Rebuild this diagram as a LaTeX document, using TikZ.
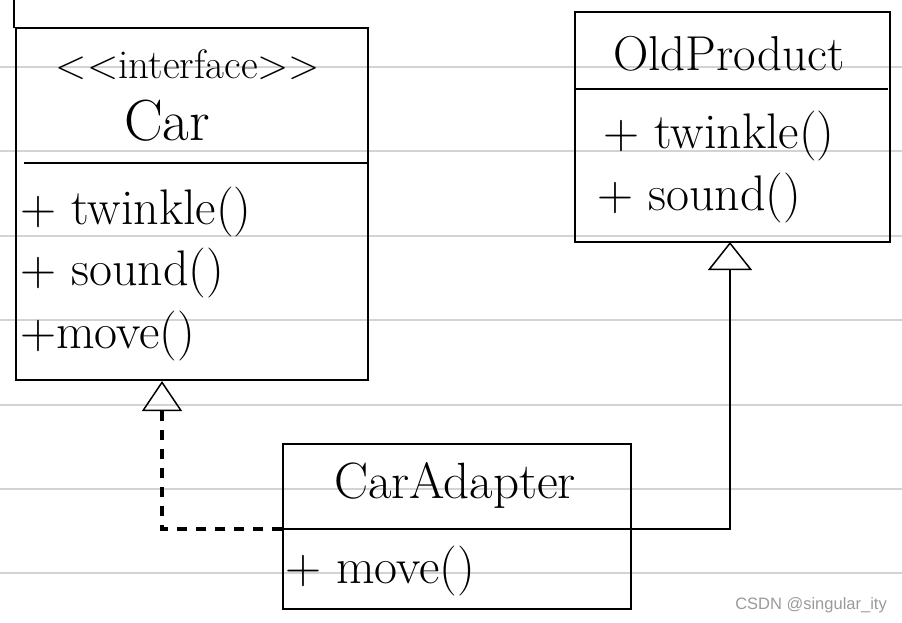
\documentclass[tikz,border=0pt]{standalone}
\usepackage{fontspec}
\usepackage{tikz}
\usetikzlibrary{arrows.meta, positioning, calc}
\newfontfamily\marksans{Liberation Sans}
\definecolor{rulegray}{HTML}{D3D3D3}
\definecolor{markgray}{HTML}{9A9A9A}

\begin{document}
\begin{tikzpicture}[x=1pt, y=-1pt,
  classbox/.style={draw, line width=1.4pt, inner sep=0pt},
  hand/.style={inner sep=0pt, font=\fontsize{50}{54}\selectfont},
  method/.style={hand, anchor=base west},
  title/.style={hand, anchor=base},
  rule/.style={rulegray, line width=2pt},
  realize/.style={line width=3.2pt, dash pattern=on 10pt off 9pt, -{Triangle[open, length=30pt, width=40pt, line width=1.5pt]}},
  inherit/.style={line width=1.6pt, -{Triangle[open, length=28pt, width=44pt, line width=1.5pt]}}]
  \useasboundingbox (0,0) rectangle (902,622);
  % lined paper
  \foreach \y in {67,151,236,320,405,489,573} {
    \draw[rule] (0,\y) -- (902,\y);
  }
  \draw[line width=2.5pt] (14,0) -- (14,28);
  % class boxes
  \node[classbox, minimum width=352pt, minimum height=352pt] (car) at (192,204) {};
  \node[classbox, minimum width=315pt, minimum height=230pt] (old) at (732.5,127) {};
  \node[classbox, minimum width=348pt, minimum height=165pt] (adapt) at (457,526.5) {};
  \draw[line width=1.4pt] (24,163) -- (car.east |- 0,163);
  \draw[line width=1.4pt] (old.west |- 0,89) -- (888,89);
  \coordinate (adapt-l) at (adapt.west |- 0,529);
  \coordinate (adapt-r) at (adapt.east |- 0,529);
  \draw[line width=1.4pt] (adapt-l) -- (adapt-r);
  % texts
  \node[title, font=\fontsize{41}{44}\selectfont] (car-st) at (188,78) {\textless\kern0pt\textless interface\textgreater\kern0pt\textgreater};
  \node[title, font=\fontsize{58}{62}\selectfont] (car-name) at (167,140) {Car};
  \node[method] (car-m1) at (20,224) {+ twinkle()};
  \node[method] (car-m2) at (20,285) {+ sound()};
  \node[method] (car-m3) at (20,348) {+move()};
  \node[title, font=\fontsize{49}{52}\selectfont] (old-name) at (729,70) {OldProduct};
  \node[method] (old-m1) at (603,148) {+ twinkle()};
  \node[method] (old-m2) at (597,210) {+ sound()};
  \node[title, font=\fontsize{51}{54}\selectfont] (adapt-name) at (455,498) {CarAdapter};
  \node[method] (adapt-m1) at (285,583) {+ move()};
  % relations
  \coordinate (car-in) at (162,381);
  \coordinate (old-in) at (730,242);
  \draw[realize] (adapt-l) -| (car-in);
  \draw[inherit] (adapt-r) -| (old-in);
  \node[anchor=base east, inner sep=0pt, font=\marksans\fontsize{16.5}{18}\selectfont, text=markgray] (mark) at (887,609) {CSDN @singular\_ity};
\end{tikzpicture}
\end{document}
